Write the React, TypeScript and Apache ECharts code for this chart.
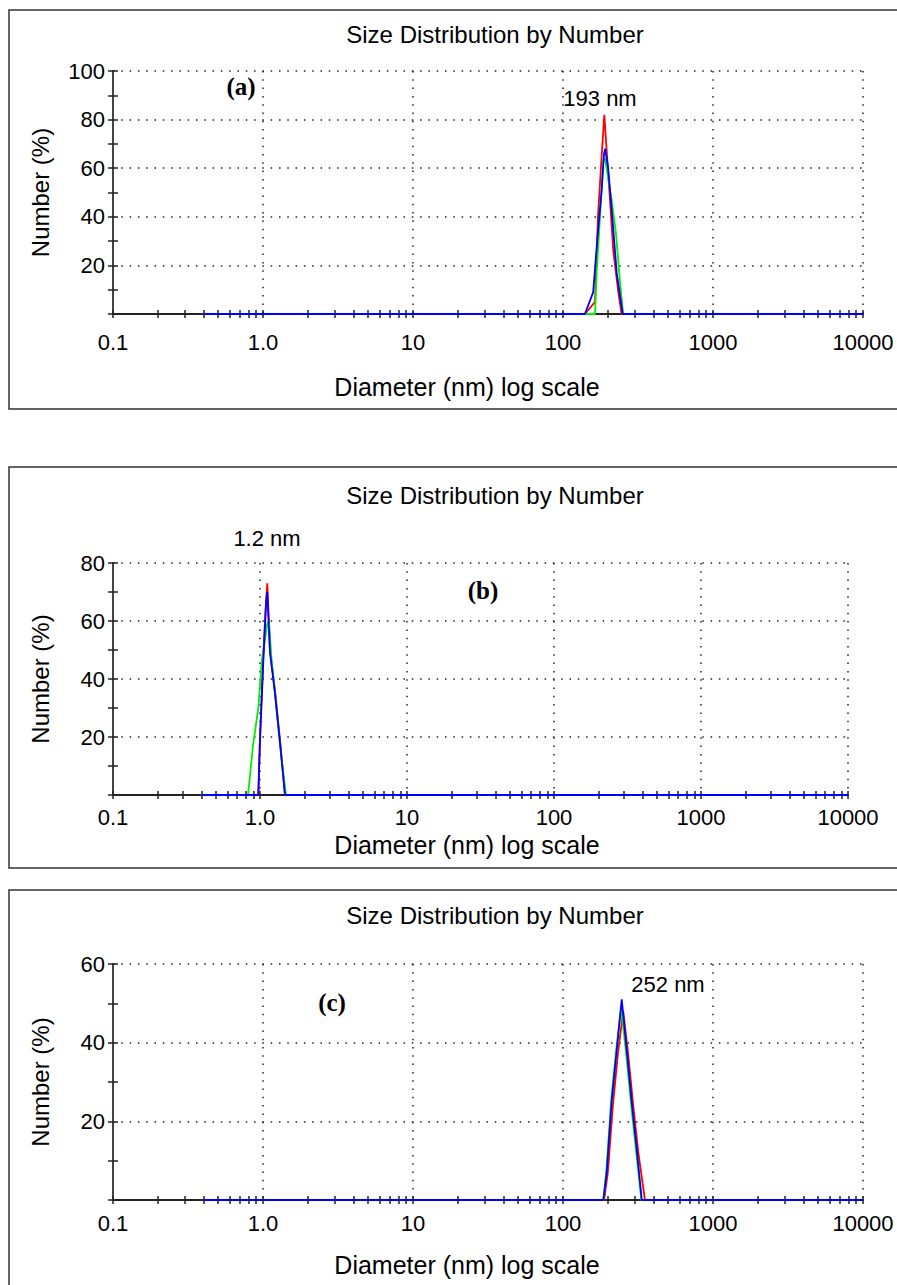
import React, { useEffect, useRef } from "react";
import * as echarts from "echarts";

// ---------------- data ----------------
const TITLE = "Size Distribution by Number";
const X_NAME = "Diameter (nm) log scale";
const Y_NAME = "Number (%)";
const X_LABELS: Record<string, string> = { "-1": "0.1", "0": "1.0", "1": "10", "2": "100", "3": "1000", "4": "10000" };
const X_DECADES = [0.1, 1, 10, 100, 1000];
const X_MULTS = [1, 2, 3, 4, 5, 6, 7, 8, 9];

// Panel (a) - 193 nm
const A_RED_D = [0.4, 140, 163.5, 171, 181, 188.6, 195.6, 205.7, 216.4, 233.7, 246, 10000];
const A_RED_V = [0, 0, 5, 40, 65, 82, 67, 47, 26, 9, 0, 0];
const A_GREEN_D = [0.4, 163.5, 167.7, 176.5, 185.7, 190.5, 211, 225.6, 240, 252, 10000];
const A_GREEN_V = [0, 0, 17, 40, 63, 64, 47, 33, 13, 0, 0];
const A_BLUE_D = [0.4, 140, 159, 169, 181, 187.7, 191, 200, 211, 228, 250, 10000];
const A_BLUE_V = [0, 0, 9, 30, 51, 66, 68, 60, 43, 17, 0, 0];

// Panel (b) - 1.2 nm
const B_RED_D = [0.4, 0.974, 1.0, 1.053, 1.099, 1.121, 1.17, 1.265, 1.368, 1.479, 10000];
const B_RED_V = [0, 0, 20, 48, 67, 73, 50, 36, 19, 0, 0];
const B_GREEN_D = [0.4, 0.829, 0.896, 0.974, 1.027, 1.121, 1.15, 1.201, 1.299, 1.405, 1.503, 10000];
const B_GREEN_V = [0, 0, 17, 30, 46, 59, 60, 46, 29, 12, 0, 0];
const B_BLUE_D = [0.4, 0.974, 1.0, 1.053, 1.099, 1.121, 1.17, 1.265, 1.368, 1.479, 10000];
const B_BLUE_V = [0, 0, 19, 46, 66, 70, 49, 35, 18, 0, 0];

// Panel (c) - 252 nm
const C_RED_D = [0.4, 188, 199, 215, 232, 252, 272, 294, 318, 352, 10000];
const C_RED_V = [0, 0, 7, 24, 37, 48, 37, 24, 12, 0, 0];
const C_GREEN_D = [0.4, 185.7, 195, 210, 226, 244, 264, 285, 308, 333, 10000];
const C_GREEN_V = [0, 0, 8, 26, 38, 49, 37, 24, 12, 0, 0];
const C_BLUE_D = [0.4, 185.7, 195.6, 211, 228, 246.3, 266, 287, 310, 335, 10000];
const C_BLUE_V = [0, 0, 7, 25, 38, 51, 38, 25, 13, 0, 0];

const Y_MAX = [100, 80, 60];
const PEAK_LABELS = ["193 nm", "1.2 nm", "252 nm"];
const PANEL_TAGS = ["(a)", "(b)", "(c)"];

export default function App() {
  const ref = useRef<HTMLDivElement>(null);
  useEffect(() => {
    document.body.style.margin = "0";
    const chart = echarts.init(ref.current!, undefined, { renderer: "svg" });

    const FONT = '"Liberation Sans", Arial, sans-serif';
    const xTicks: number[] = [];
    X_DECADES.forEach((d) => X_MULTS.forEach((m) => xTicks.push(+(d * m).toPrecision(3))));
    xTicks.push(10000);

    const grids = [
      { left: 113, top: 71, width: 750, height: 243 },
      { left: 113, top: 563, width: 735, height: 232 },
      { left: 113, top: 964, width: 750, height: 236 },
    ];
    const labelMargins = [17, 11, 12];
    const xNameY = [387, 845, 1265];
    const titleY = [34, 495, 915];
    const peakPos = [[600, 98], [267, 538], [668, 984]];
    const tagPos = [[241, 86], [483, 590], [332, 1002]];
    const boxes = [[10, 399], [467, 401], [890, 430]];

    const dotted = { type: [1.5, 6.8] as any, color: "#222", width: 1.5 };
    const tickStyle = { color: "#222", width: 1.5 };

    const xAxis: any[] = [];
    const yAxis: any[] = [];
    grids.forEach((g, i) => {
      const base = { type: "log", logBase: 10, min: 0.1, max: 10000, gridIndex: i, position: "bottom", offset: 0 };
      // main: line, labels, decade grid lines
      xAxis.push({
        ...base,
        axisLine: { show: true, onZero: false, lineStyle: { color: "#222", width: 2 } },
        axisTick: { show: false },
        axisLabel: {
          show: true,
          margin: labelMargins[i],
          color: "#000",
          fontSize: 22,
          fontFamily: FONT,
          showMinLabel: true,
          showMaxLabel: true,
          formatter: (v: number) => X_LABELS[String(Math.round(Math.log10(v)))] ?? "",
        },
        splitLine: { show: true, lineStyle: dotted },
      });
      // tick crosses
      [false, true].forEach((inside) =>
        xAxis.push({
          ...base,
          axisLine: { show: false, onZero: false },
          axisTick: { show: true, inside, length: 4, customValues: xTicks, lineStyle: tickStyle },
          axisLabel: { show: false },
          splitLine: { show: false },
        })
      );
      const yTicks: number[] = [];
      for (let v = 0; v <= Y_MAX[i]; v += 10) yTicks.push(v);
      const ybase = { type: "value", min: 0, max: Y_MAX[i], interval: 20, gridIndex: i, position: "left", offset: 0 };
      yAxis.push({
        ...ybase,
        axisLine: { show: true, onZero: false, lineStyle: { color: "#444", width: 2 } },
        axisTick: { show: false },
        axisLabel: {
          show: true,
          margin: 8,
          color: "#000",
          fontSize: 22,
          fontFamily: FONT,
          formatter: (v: number) => (v === 0 ? "" : String(v)),
        },
        splitLine: { show: true, lineStyle: dotted },
      });
      [false, true].forEach((inside) =>
        yAxis.push({
          ...ybase,
          axisLine: { show: false, onZero: false },
          axisTick: { show: true, inside, length: 5, customValues: yTicks, lineStyle: tickStyle },
          axisLabel: { show: false },
          splitLine: { show: false },
        })
      );
    });

    const panels = [
      [[A_RED_D, A_RED_V], [A_GREEN_D, A_GREEN_V], [A_BLUE_D, A_BLUE_V]],
      [[B_RED_D, B_RED_V], [B_GREEN_D, B_GREEN_V], [B_BLUE_D, B_BLUE_V]],
      [[C_RED_D, C_RED_V], [C_GREEN_D, C_GREEN_V], [C_BLUE_D, C_BLUE_V]],
    ];
    const colors = ["#ff0000", "#00ee00", "#0000ff"];
    const series: any[] = [];
    panels.forEach((p, i) => {
      p.forEach(([d, v], k) => {
        series.push({
          type: "line",
          xAxisIndex: 3 * i,
          yAxisIndex: 3 * i,
          data: d.map((x, j) => [x, v[j]]),
          showSymbol: false,
          symbol: "none",
          lineStyle: { color: colors[k], width: 1.8 },
          z: 3 + k,
        });
      });
    });

    const graphic: any[] = [];
    boxes.forEach(([y, h]) => {
      graphic.push({
        type: "rect",
        shape: { x: 9, y, width: 920, height: h },
        style: { fill: "none", stroke: "#333", lineWidth: 1.5 },
        silent: true,
      });
    });
    grids.forEach((g, i) => {
      graphic.push({
        type: "text",
        x: 495,
        y: titleY[i],
        style: { text: TITLE, font: `24px ${FONT}`, fill: "#000", textAlign: "center", textVerticalAlign: "middle" },
      });
      graphic.push({
        type: "text",
        x: 467,
        y: xNameY[i],
        style: { text: X_NAME, font: `25px ${FONT}`, fill: "#000", textAlign: "center", textVerticalAlign: "middle" },
      });
      graphic.push({
        type: "text",
        x: 40,
        y: g.top + g.height / 2,
        rotation: Math.PI / 2,
        style: { text: Y_NAME, font: `24px ${FONT}`, fill: "#000", textAlign: "center", textVerticalAlign: "middle" },
      });
      graphic.push({
        type: "text",
        x: peakPos[i][0],
        y: peakPos[i][1],
        style: { text: PEAK_LABELS[i], font: `22px ${FONT}`, fill: "#000", textAlign: "center", textVerticalAlign: "middle" },
      });
      graphic.push({
        type: "text",
        x: tagPos[i][0],
        y: tagPos[i][1],
        style: {
          text: PANEL_TAGS[i],
          font: `bold 25px "Liberation Serif", "Times New Roman", serif`,
          fill: "#000",
          textAlign: "center",
          textVerticalAlign: "middle",
        },
      });
    });

    chart.setOption({
      animation: false,
      backgroundColor: "#fff",
      grid: grids.map((g) => ({ ...g, containLabel: false })),
      xAxis,
      yAxis,
      series,
      graphic,
    });
    return () => chart.dispose();
  }, []);
  return <div ref={ref} style={{ width: 897, height: 1285 }} />;
}
